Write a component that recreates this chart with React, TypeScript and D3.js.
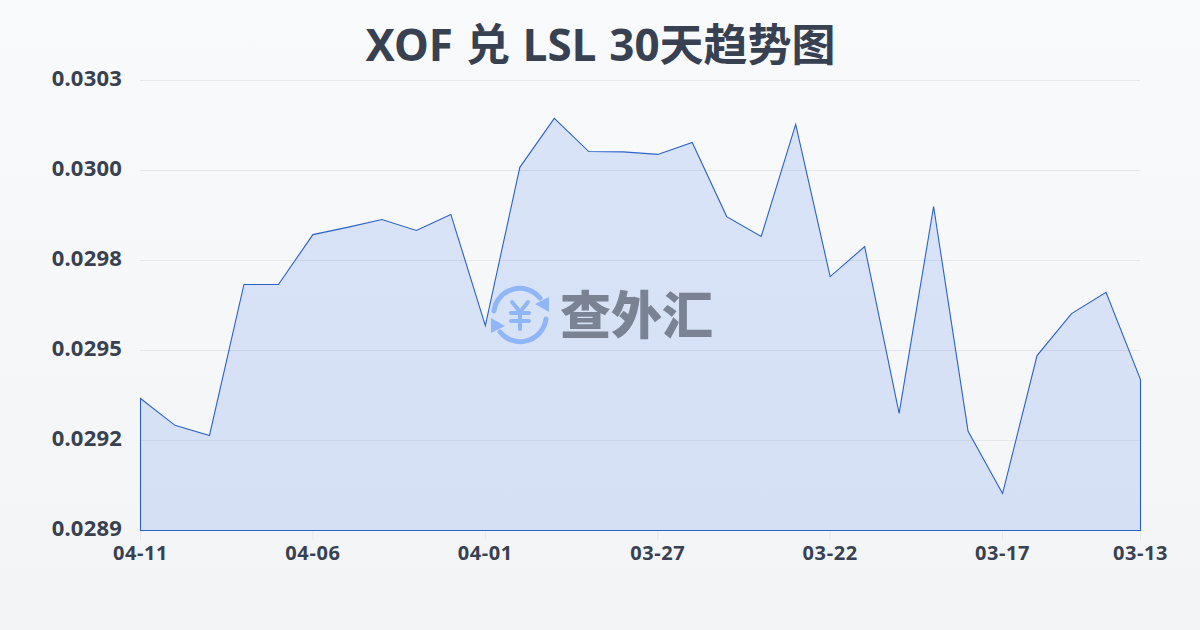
import React from "react";
import * as d3 from "d3";

const title = "XOF 兑 LSL 30天趋势图";
const dates = ["04-11","04-10","04-09","04-08","04-07","04-06","04-05","04-04","04-03","04-02","04-01","03-31","03-30","03-29","03-28","03-27","03-26","03-25","03-24","03-23","03-22","03-21","03-20","03-19","03-18","03-17","03-16","03-15","03-14","03-13"];
const rates = [0.029318,0.029233,0.029201,0.029679,0.029679,0.029837,0.02986,0.029885,0.02985,0.029901,0.029549,0.03005,0.030205,0.0301,0.030099,0.030091,0.030129,0.029894,0.029831,0.030186,0.029704,0.029799,0.029271,0.029926,0.029214,0.029017,0.029454,0.029587,0.029654,0.029378];
const xTickIndexes = [0,5,10,15,20,25,29];
const yTickValues = [0.0289,0.029185,0.02947,0.029755,0.03004,0.030325];

const font = "'Noto Sans','Noto Sans CJK SC',sans-serif";
const logoBlue = "#8fb6f6";

export default function App() {
  const x = d3.scaleLinear().domain([0, dates.length - 1]).range([140.5, 1140.5]);
  const y = d3.scaleLinear().domain([0.0289, 0.030325]).range([530.5, 80.5]);
  const area = d3.area<number>().x((_, i) => x(i)).y0(y(0.0289)).y1((d) => y(d));
  const path = area(rates) as string;
  return (
    <svg width={1200} height={630} style={{ position: "absolute", left: 0, top: 0, display: "block" }}>
      <defs>
        <linearGradient id="bg" x1="0" y1="0" x2="0" y2="1">
          <stop offset="0" stopColor="#f8fafc" />
          <stop offset="1" stopColor="#f3f4f6" />
        </linearGradient>
      </defs>
      <rect width={1200} height={630} fill="url(#bg)" />
      <text x={600.5} y={61} textAnchor="middle" fontFamily={font} fontSize={44} fontWeight={700} wordSpacing={1.5} fill="#374151">{title}</text>
      {yTickValues.map((t) => (
        <g key={t}>
          <line x1={140} x2={1140} y1={y(t)} y2={y(t)} stroke="#e5e7eb" strokeWidth={1} />
          <text x={122} y={y(t) + 5.5} textAnchor="end" fontFamily={font} fontSize={22} fontWeight={700} letterSpacing={0.2} fill="#374151">{t.toFixed(4)}</text>
        </g>
      ))}
      <path d={path} fill="#2563eb" fillOpacity={0.14} stroke="#2b62c8" strokeWidth={1.1} />
      {xTickIndexes.map((i) => (
        <g key={i}>
          <line x1={x(i)} x2={x(i)} y1={531} y2={540} stroke="#e5e7eb" strokeWidth={1} />
          <text x={x(i)} y={560} textAnchor="middle" fontFamily={font} fontSize={20} fontWeight={700} letterSpacing={0.6} fill="#374151">{dates[i]}</text>
        </g>
      ))}
      <g>
        <path d="M 494 311 A 26 26 0 0 1 540 298" fill="none" stroke={logoBlue} strokeWidth={5} strokeLinecap="round" />
        <path d="M 549 297 L 549 312 L 535 304 Z" fill={logoBlue} />
        <path d="M 546 319 A 26 26 0 0 1 500 332" fill="none" stroke={logoBlue} strokeWidth={5} strokeLinecap="round" />
        <path d="M 491 318 L 491 333 L 505 326 Z" fill={logoBlue} />
        <path d="M 512 302 L 520 312 L 528 302 M 520 312 L 520 329 M 511 313 L 529 313 M 511 321 L 529 321" fill="none" stroke={logoBlue} strokeWidth={4} strokeLinecap="round" />
        <text x={560} y={334} fontFamily={font} fontSize={51} fontWeight={900} fill="#7a8294">查外汇</text>
      </g>
    </svg>
  );
}
